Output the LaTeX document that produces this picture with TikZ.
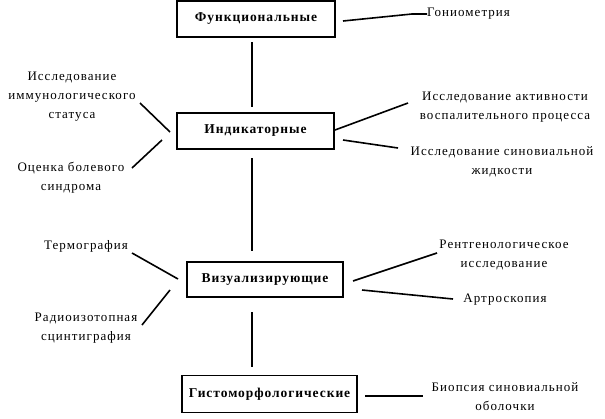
\documentclass[tikz,border=0pt]{standalone}
\usepackage{fontspec}
\setmainfont{Liberation Serif}
\newfontfamily\lblfont[LetterSpace=8]{Liberation Serif}
\newfontfamily\catfont[LetterSpace=7]{Liberation Serif}
\begin{document}
\begin{tikzpicture}[x=1pt,y=-1pt,
  cat/.style={draw,line width=1.6pt,minimum height=36pt,inner sep=0pt,font=\catfont\fontsize{13.5}{15}\selectfont\bfseries},
  lbl/.style={align=center,inner sep=0pt,font=\lblfont\fontsize{13}{19}\selectfont},
  conn/.style={line width=1.6pt}]
\useasboundingbox (0,0) rectangle (605,418);
\node[cat,minimum width=158pt] (f) at (256,19) {Функциональные};
\node[cat,minimum width=157pt] (ind) at (255.5,131) {Индикаторные};
\node[cat,minimum width=156pt,minimum height=35pt] (vis) at (265,279.5) {Визуализирующие};
\node[cat,minimum width=175pt,minimum height=37pt] (gis) at (269.5,394) {Гистоморфологические};

\node[lbl,anchor=west] (gon) at (427,14) {Гониометрия};
\node[lbl] (act) at (505,107) {Исследование активности\\воспалительного процесса};
\node[lbl] (syn) at (502,162) {Исследование синовиальной\\жидкости};
\node[lbl] (imm) at (72,97) {Исследование\\иммунологического\\статуса};
\node[lbl] (pain) at (71,178) {Оценка болевого\\синдрома};
\node[lbl] (th) at (86,246) {Термография};
\node[lbl] (rad) at (86,328) {Радиоизотопная\\сцинтиграфия};
\node[lbl] (rg) at (504,255) {Рентгенологическое\\исследование};
\node[lbl] (ar) at (505,300) {Артроскопия};
\node[lbl] (bio) at (505,397) {Биопсия синовиальной\\оболочки};

\coordinate (v1a) at (252,42); \coordinate (v1b) at (252,107);
\coordinate (v2a) at (252,158); \coordinate (v2b) at (252,251);
\coordinate (v3a) at (252,312); \coordinate (v3b) at (252,367);
\draw[conn] (v1a) -- (v1b);
\draw[conn] (v2a) -- (v2b);
\draw[conn] (v3a) -- (v3b);

\coordinate (g1) at (343,21); \coordinate (g2) at (412,14);
\draw[conn] (g1) -- (g2) -- (gon.west);
\coordinate (i1) at (140,103); \coordinate (i2) at (170,132);
\draw[conn] (i1) -- (i2);
\coordinate (p1) at (132,168); \coordinate (p2) at (162,140);
\draw[conn] (p1) -- (p2);
\coordinate (a1) at (335,130); \coordinate (a2) at (408,103);
\draw[conn] (a1) -- (a2);
\coordinate (s1) at (343,140); \coordinate (s2) at (398,148);
\draw[conn] (s1) -- (s2);
\coordinate (t1) at (132,253); \coordinate (t2) at (178,279);
\draw[conn] (t1) -- (t2);
\coordinate (r1) at (142,325); \coordinate (r2) at (170,290);
\draw[conn] (r1) -- (r2);
\coordinate (x1) at (353,281); \coordinate (x2) at (437,253);
\draw[conn] (x1) -- (x2);
\coordinate (y1) at (362,290); \coordinate (y2) at (453,299);
\draw[conn] (y1) -- (y2);
\coordinate (b1) at (365,396); \coordinate (b2) at (423,396);
\draw[conn] (b1) -- (b2);
\end{tikzpicture}
\end{document}
